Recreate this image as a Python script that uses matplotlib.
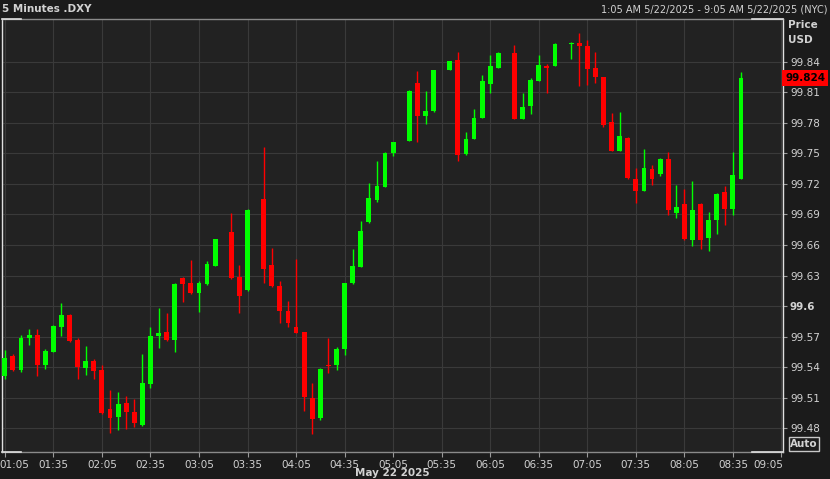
import numpy as np
import pandas as pd
import matplotlib
matplotlib.use("Agg")
import matplotlib.pyplot as plt
from matplotlib.transforms import ScaledTranslation

nan = np.nan

# 5 minute bars, 01:05 .. 08:40 (gaps where no bar was drawn)
times = pd.date_range("2025-05-22 01:05", "2025-05-22 08:40", freq="5min")
opens = [99.531, 99.551, 99.537, 99.569, 99.572, 99.542, 99.555, 99.579, 99.591, 99.567,
         99.539, 99.546, 99.537, 99.499, 99.491, 99.505, 99.496, 99.483, 99.523, 99.571,
         99.575, 99.567, 99.628, 99.623, 99.613, 99.622, 99.639, nan, 99.673, 99.629,
         99.616, nan, 99.705, 99.640, 99.620, 99.595, 99.579, 99.575, 99.510, 99.490,
         99.542, 99.542, 99.558, 99.623, 99.638, 99.683, 99.704, 99.717, 99.750, nan,
         99.762, 99.819, 99.787, 99.792, nan, 99.832, 99.842, 99.749, 99.764, 99.785,
         99.818, 99.834, nan, 99.849, 99.784, 99.797, 99.821, 99.836, 99.836, nan,
         99.857, 99.858, 99.855, 99.834, 99.825, 99.781, 99.752, 99.765, 99.725, 99.713,
         99.735, 99.730, 99.744, 99.691, 99.700, 99.665, 99.700, 99.667, 99.685, 99.712,
         99.695, 99.725]
highs = [99.557, 99.553, 99.572, 99.578, 99.578, 99.558, 99.581, 99.603, 99.592, 99.569,
         99.561, 99.548, 99.542, 99.518, 99.516, 99.512, 99.509, 99.553, 99.579, 99.598,
         99.593, 99.623, 99.629, 99.645, 99.625, 99.644, 99.666, nan, 99.691, 99.640,
         99.695, nan, 99.756, 99.657, 99.625, 99.605, 99.646, 99.575, 99.524, 99.539,
         99.569, 99.560, 99.623, 99.656, 99.684, 99.721, 99.743, 99.751, 99.761, nan,
         99.812, 99.831, 99.811, 99.832, nan, 99.841, 99.850, 99.771, 99.794, 99.827,
         99.847, 99.850, nan, 99.856, 99.809, 99.824, 99.847, 99.838, 99.858, nan,
         99.859, 99.868, 99.861, 99.850, 99.825, 99.790, 99.791, 99.766, 99.736, 99.754,
         99.739, 99.745, 99.751, 99.719, 99.715, 99.723, 99.701, 99.692, 99.711, 99.718,
         99.751, 99.830]
lows = [99.528, 99.536, 99.535, 99.562, 99.531, 99.538, 99.555, 99.571, 99.565, 99.528,
        99.532, 99.528, 99.494, 99.475, 99.478, 99.479, 99.481, 99.482, 99.520, 99.559,
        99.566, 99.555, 99.604, 99.612, 99.594, 99.621, 99.639, nan, 99.627, 99.593,
        99.615, nan, 99.623, 99.619, 99.583, 99.579, 99.574, 99.497, 99.474, 99.488,
        99.534, 99.537, 99.552, 99.622, 99.638, 99.682, 99.702, 99.717, 99.747, nan,
        99.762, 99.761, 99.779, 99.791, nan, 99.832, 99.743, 99.748, 99.764, 99.785,
        99.809, 99.834, nan, 99.784, 99.784, 99.789, 99.821, 99.809, 99.836, nan,
        99.843, 99.816, 99.817, 99.819, 99.776, 99.752, 99.752, 99.725, 99.701, 99.713,
        99.719, 99.728, 99.689, 99.687, 99.665, 99.659, 99.656, 99.654, 99.671, 99.680,
        99.689, 99.725]
closes = [99.549, 99.537, 99.569, 99.572, 99.542, 99.556, 99.580, 99.591, 99.566, 99.540,
          99.546, 99.536, 99.495, 99.490, 99.504, 99.496, 99.485, 99.524, 99.571, 99.574,
          99.567, 99.622, 99.622, 99.613, 99.623, 99.641, 99.666, nan, 99.628, 99.610,
          99.694, nan, 99.636, 99.620, 99.595, 99.583, 99.574, 99.511, 99.489, 99.538,
          99.541, 99.558, 99.623, 99.639, 99.674, 99.706, 99.718, 99.750, 99.761, nan,
          99.811, 99.787, 99.792, 99.832, nan, 99.841, 99.748, 99.764, 99.785, 99.821,
          99.836, 99.849, nan, 99.784, 99.796, 99.822, 99.837, 99.834, 99.857, nan,
          99.858, 99.855, 99.833, 99.825, 99.778, 99.752, 99.767, 99.726, 99.713, 99.736,
          99.725, 99.744, 99.694, 99.697, 99.666, 99.694, 99.665, 99.685, 99.710, 99.695,
          99.729, 99.824]

price_ticks = [99.48, 99.51, 99.54, 99.57, 99.60, 99.63, 99.66, 99.69, 99.72, 99.75, 99.78, 99.81, 99.84]
time_labels = ["01:05", "01:35", "02:05", "02:35", "03:05", "03:35", "04:05", "04:35", "05:05",
               "05:35", "06:05", "06:35", "07:05", "07:35", "08:05", "08:35", "09:05"]
last_price = 99.824

GREEN = "#00ff00"
RED = "#ff0000"
TXT = "#d2d2d2"
GRID = "#3a3a3a"

fig = plt.figure(figsize=(8.3, 4.79), dpi=100, facecolor="#1b1b1b")
ax = fig.add_axes([1.5/830, 1-452/479, (783-1.5)/830, (452-19)/479])
ax.set_facecolor("#222222")

o = np.array(opens); h = np.array(highs); l = np.array(lows); c = np.array(closes)
x = np.arange(len(o))
ok = ~np.isnan(o)
col = np.where(c >= o, GREEN, RED)

ax.vlines(x[ok], l[ok], h[ok], colors=col[ok], linewidth=1.0, zorder=3)
bot = np.minimum(o, c)
hgt = np.maximum(np.abs(c - o), 0.0012)
ax.bar(x[ok], hgt[ok], bottom=bot[ok], width=0.6, color=col[ok], linewidth=0, zorder=4)

ax.set_xlim(-0.41, 96.19)
ax.set_ylim(99.4567, 99.882)

# grid
ax.set_yticks(price_ticks)
ax.set_xticks(np.arange(0, 97, 6))
ax.grid(True, color=GRID, linewidth=0.8, zorder=0)
ax.set_axisbelow(True)

ax.yaxis.tick_right()
ax.set_yticklabels([("%.2f" % v).rstrip("0") for v in price_ticks])
ax.set_xticklabels(time_labels)
ax.tick_params(axis="y", colors="#9a9a9a", labelcolor=TXT, length=3, width=0.8, pad=2, labelsize=7.5)
ax.tick_params(axis="x", colors="#9a9a9a", labelcolor=TXT, length=3.5, width=0.8, pad=2, labelsize=7.5)
for lab in ax.get_yticklabels():
    if lab.get_text() == "99.6":
        lab.set_fontweight("bold")
xl = ax.get_xticklabels()
xl[0].set_horizontalalignment("left")
xl[0].set_transform(xl[0].get_transform() + ScaledTranslation(-5/100, 0, fig.dpi_scale_trans))
xl[-1].set_horizontalalignment("right")
xl[-1].set_transform(xl[-1].get_transform() + ScaledTranslation(2/100, 0, fig.dpi_scale_trans))

for side in ["left", "right"]:
    ax.spines[side].set_color("#e0e0e0")
    ax.spines[side].set_linewidth(1.0)
for side in ["top", "bottom"]:
    ax.spines[side].set_color("#8a8a8a")
    ax.spines[side].set_linewidth(1.0)
for yy in [0, 1]:
    ax.plot([0, 0.025], [yy, yy], color="#e0e0e0", lw=1.2, transform=ax.transAxes, clip_on=False, zorder=6)
    ax.plot([0.96, 1.0], [yy, yy], color="#e0e0e0", lw=1.2, transform=ax.transAxes, clip_on=False, zorder=6)

# last price tag
ax.annotate("%.3f" % last_price, xy=(1, last_price), xycoords=("axes fraction", "data"),
            xytext=(1.5, 0), textcoords="offset points", ha="left", va="center",
            fontsize=7.5, fontweight="bold", color="black", annotation_clip=False,
            bbox=dict(boxstyle="square,pad=0.25", fc=RED, ec="none"))

fig.text(0.003, 1-9/479, "5 Minutes .DXY", color=TXT, fontsize=7.5, fontweight="bold", ha="left", va="center")
fig.text(0.997, 1-9/479, "1:05 AM 5/22/2025 - 9:05 AM 5/22/2025 (NYC)", color=TXT, fontsize=7, ha="right", va="center")
fig.text(788/830, 1-25/479, "Price", color=TXT, fontsize=7.5, fontweight="bold", ha="left", va="center")
fig.text(788/830, 1-40/479, "USD", color=TXT, fontsize=7.5, fontweight="bold", ha="left", va="center")
fig.text(804/830, 1-444/479, "Auto", color=TXT, fontsize=7.5, fontweight="bold", ha="center", va="center",
         bbox=dict(boxstyle="square,pad=0.15", fc="none", ec="#c8c8c8", lw=1))
fig.text(392/830, 1-473/479, "May 22 2025", color=TXT, fontsize=7.5, fontweight="bold", ha="center", va="center")

fig.savefig("out.png", dpi=100, facecolor=fig.get_facecolor())
